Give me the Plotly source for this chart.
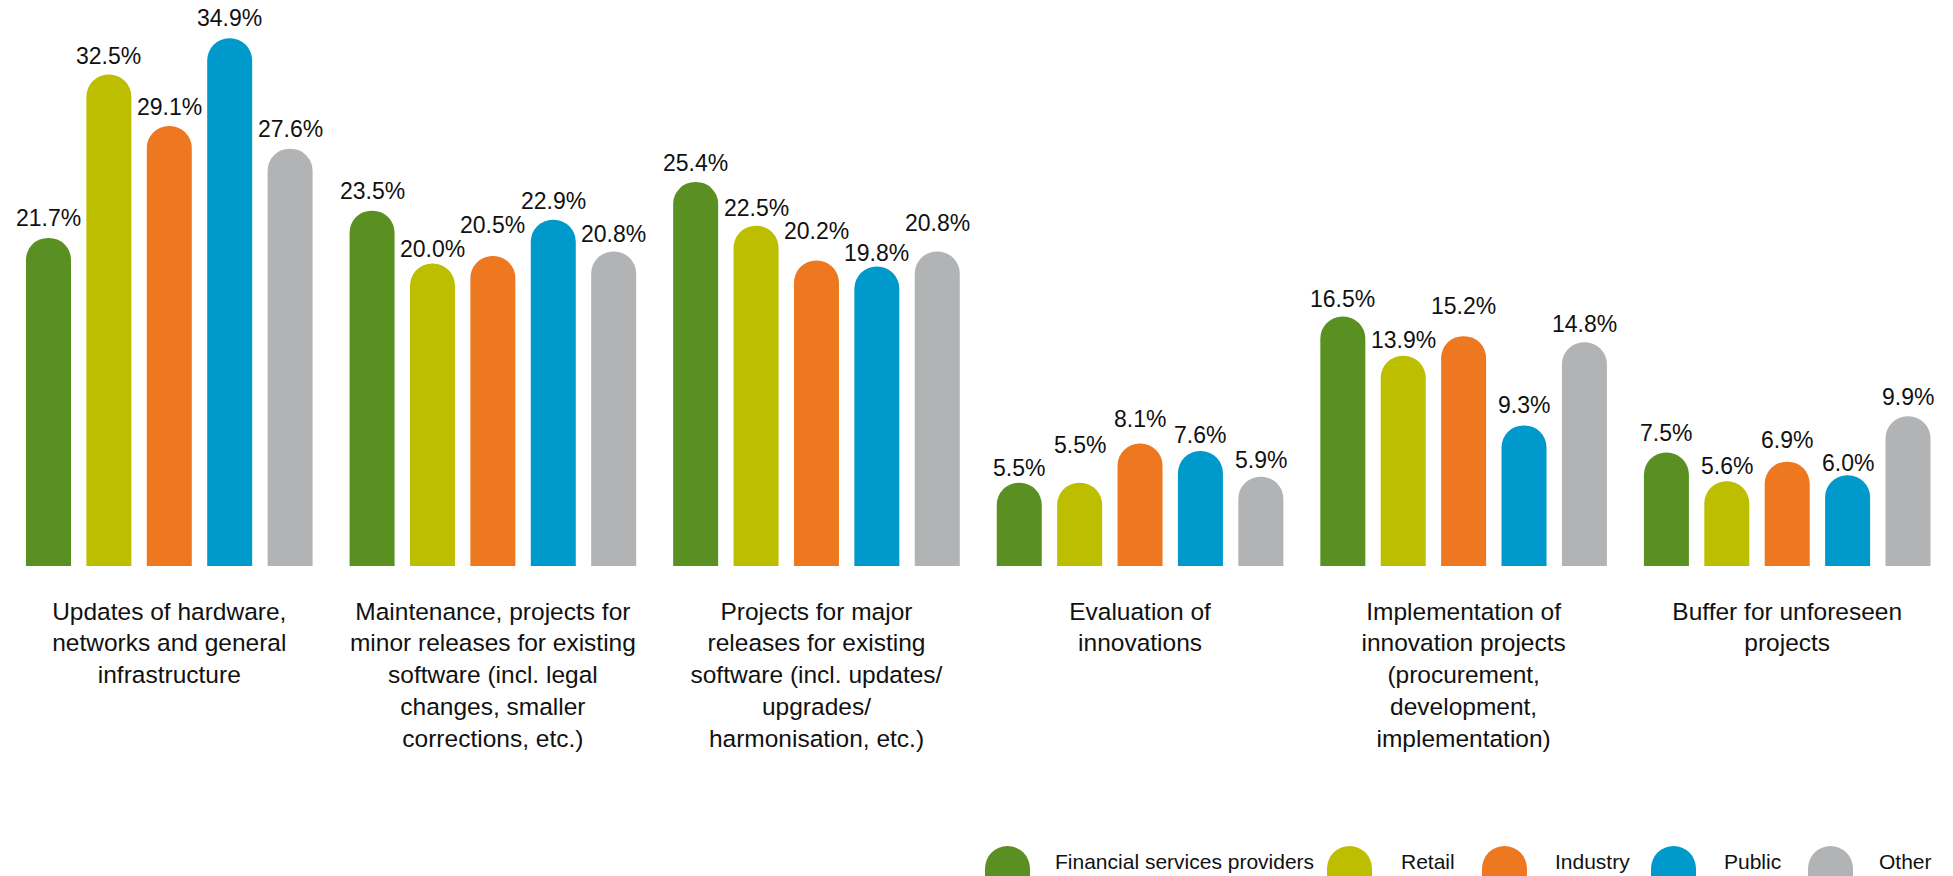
import plotly.graph_objects as go

categories = [
    "Updates of hardware,<br>networks and general<br>infrastructure",
    "Maintenance, projects for<br>minor releases for existing<br>software (incl. legal<br>changes, smaller<br>corrections, etc.)",
    "Projects for major<br>releases for existing<br>software (incl. updates/<br>upgrades/<br>harmonisation, etc.)",
    "Evaluation of<br>innovations",
    "Implementation of<br>innovation projects<br>(procurement,<br>development,<br>implementation)",
    "Buffer for unforeseen<br>projects",
]
series_names = ["Financial services providers", "Retail", "Industry", "Public", "Other"]
financial = [21.7, 23.5, 25.4, 5.5, 16.5, 7.5]
retail = [32.5, 20.0, 22.5, 5.5, 13.9, 5.6]
industry = [29.1, 20.5, 20.2, 8.1, 15.2, 6.9]
public = [34.9, 22.9, 19.8, 7.6, 9.3, 6.0]
other = [27.6, 20.8, 20.8, 5.9, 14.8, 9.9]
series_values = [financial, retail, industry, public, other]

# style: distance (px) of each value label's centre above its bar end, per series
label_gap_px = [
    [20, 20, 19, 15, 18, 20],
    [19, 15, 18, 38, 16, 15],
    [19, 31, 30, 25, 30, 22],
    [20, 19, 14, 16, 20, 12],
    [20, 18, 29, 17, 18, 19],
]

colors = ["#5A8F22", "#BEBE00", "#EE7820", "#0099CC", "#B2B3B5"]
FONT = "Liberation Sans, Arial, sans-serif"

W, H = 1953, 876
MB = 310
plot_h = H - MB
dom = [7.5, 1949.0]
BARGAP, GROUPGAP = 0.0667, 0.255
cat_px = (dom[1] - dom[0]) / len(categories)
slot_px = (1 - BARGAP) * cat_px / len(series_names)

fig = go.Figure()
annotations = []
xs = list(range(len(categories)))
for si, (name, vals, col) in enumerate(zip(series_names, series_values, colors)):
    fig.add_trace(go.Bar(
        x=xs, y=vals, name=name,
        marker=dict(color=col, cornerradius="50%", line=dict(width=0)),
        showlegend=False, hoverinfo="name+y",
    ))
    off = (si - (len(series_names) - 1) / 2) * slot_px
    for ci, v in enumerate(vals):
        annotations.append(dict(
            x=xs[ci], y=v, xref="x", yref="y", text=f"{v:.1f}%", showarrow=False,
            xanchor="center", yanchor="middle", xshift=off, yshift=label_gap_px[si][ci],
            font=dict(family=FONT, size=23, color="#111111")))

# custom legend (rounded-top swatches + labels)
sym_left = [985, 1327, 1482, 1651, 1808]
txt_left = [1053, 1399, 1553, 1722, 1877]
sym_top = 846
r = 22.5
shapes = []
for name, col, sx, tx in zip(series_names, colors, sym_left, txt_left):
    cx = (sx + r) / W
    cy = (plot_h - (sym_top + r)) / plot_h
    shapes.append(dict(type="circle", xref="paper", yref="paper",
                       xsizemode="pixel", ysizemode="pixel",
                       xanchor=cx, yanchor=cy, x0=-r, x1=r, y0=-r, y1=r,
                       fillcolor=col, line=dict(width=0), layer="above"))
    shapes.append(dict(type="rect", xref="paper", yref="paper",
                       xsizemode="pixel", ysizemode="pixel",
                       xanchor=cx, yanchor=cy, x0=-r, x1=r, y0=-40, y1=0,
                       fillcolor=col, line=dict(width=0), layer="above"))
    annotations.append(dict(x=tx / W, y=(plot_h - 861) / plot_h, xref="paper", yref="paper",
                            text=name, showarrow=False, xanchor="left", yanchor="middle",
                            font=dict(family=FONT, size=21, color="#111111")))

fig.update_layout(
    width=W, height=H,
    margin=dict(l=0, r=0, t=0, b=MB, pad=0),
    paper_bgcolor="white", plot_bgcolor="white",
    barmode="group", bargap=BARGAP, bargroupgap=GROUPGAP,
    xaxis=dict(domain=[dom[0] / W, dom[1] / W], range=[-0.5, len(categories) - 0.5],
               tickmode="array", tickvals=xs, ticktext=categories,
               showgrid=False, zeroline=False, showline=False, ticks="",
               ticklabelstandoff=28,
               tickfont=dict(family=FONT, size=24.5, color="#111111")),
    yaxis=dict(range=[0, plot_h / 15.12], visible=False, showgrid=False, zeroline=False),
    shapes=shapes, annotations=annotations,
    showlegend=False,
)

fig.write_html("out.html")
